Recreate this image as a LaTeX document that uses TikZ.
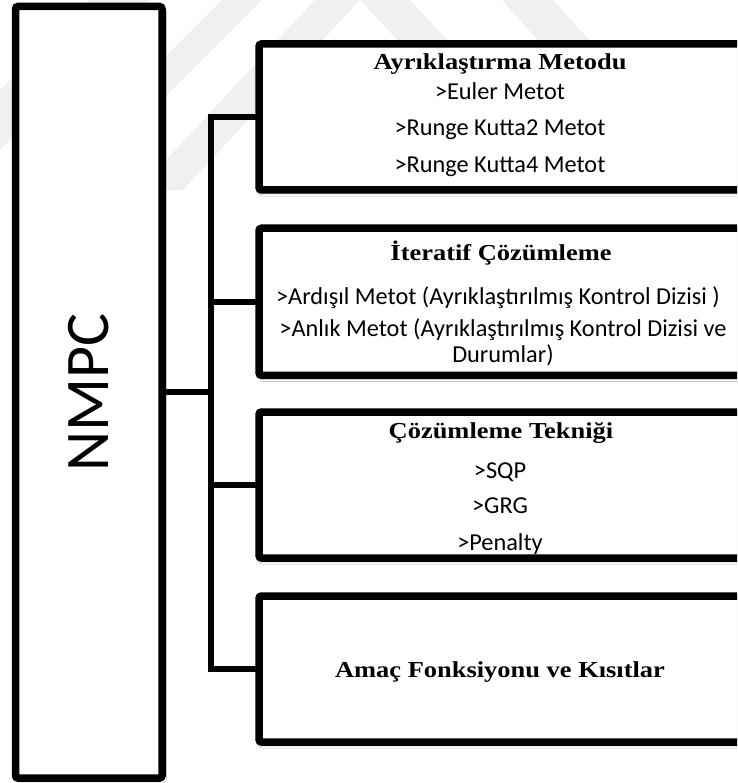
\documentclass[tikz,border=0pt]{standalone}
\usepackage{fontspec}
\setmainfont{Liberation Serif}
\newfontfamily\calib{Carlito}
\usetikzlibrary{shadows.blur}
\newcommand\ttltext[1]{\scalebox{1.16}[1]{#1}}
\begin{document}
\begin{tikzpicture}[x=1pt,y=-1pt,
  box/.style={draw=black, line width=7.5pt, fill=white, rounded corners=2.5pt,
    outer sep=0pt, inner sep=0pt,
    blur shadow={shadow xshift=1.5pt, shadow yshift=-3pt, shadow opacity=30,
      shadow blur radius=3pt, shadow blur steps=6}},
  conn/.style={line width=6pt},
  ttl/.style={font=\fontsize{22.8}{27}\selectfont\bfseries, anchor=base, inner sep=0pt},
  itm/.style={font=\calib\fontsize{24.3}{28}\selectfont, anchor=base, inner sep=0pt},
  wm/.style={fill=black!6, draw=none},
]
\clip (0,0) rectangle (737,783);
\fill[white] (0,0) rectangle (737,783);
% faint watermark
\path[wm] (138,190) -- (315,0) -- (410,0) -- (587,190) -- (537,190) -- (360,0) -- (183,190) -- cycle;
\path[wm] (502,0) -- (553,0) -- (607,60) -- (556,60) -- cycle;
\path[wm] (222,0) -- (262,0) -- (132,130) -- (92,130) -- cycle;
\path[wm] (0,90) -- (90,0) -- (150,0) -- (0,150) -- cycle;

% NMPC box
\node[box, minimum width=146.5pt, minimum height=771.5pt,
  font=\calib\fontsize{62}{70}\selectfont] (nmpc) at (88.75,392.25) {\rotatebox{90}{NMPC}};

% branch boxes
\node[box, minimum width=486pt, minimum height=146pt] (b1) at (502,117) {};
\node[box, minimum width=486pt, minimum height=147pt] (b2) at (502,301.75) {};
\node[box, minimum width=486pt, minimum height=146pt] (b3) at (502,485) {};
\node[box, minimum width=486pt, minimum height=146pt] (b4) at (502,669) {};

% connectors
\coordinate (bus) at (211,0);
\draw[conn] (nmpc.east) -- (nmpc.east -| bus);
\draw[conn] (b1.west) -| (bus |- b4.west) -- (b4.west);
\draw[conn] (b2.west) -- (b2.west -| bus);
\draw[conn] (b3.west) -- (b3.west -| bus);

% texts box 1
\node[ttl] (t1) at (500,69.5) {\ttltext{Ayrıklaştırma Metodu}};
\node[itm] (t1a) at (500,100) {>Euler Metot};
\node[itm] (t1b) at (500,136) {>Runge Kutta2 Metot};
\node[itm] (t1c) at (500,173) {>Runge Kutta4 Metot};
% box 2
\node[ttl] (t2) at (501,260.5) {\ttltext{İteratif Çözümleme}};
\node[itm] (t2a) at (498,304) {>Ardışıl Metot (Ayrıklaştırılmış Kontrol Dizisi )};
\node[itm] (t2b) at (503,336) {>Anlık Metot (Ayrıklaştırılmış Kontrol Dizisi ve};
\node[itm] (t2c) at (503,362) {Durumlar)};
% box 3
\node[ttl] (t3) at (501,438.5) {\ttltext{Çözümleme Tekniği}};
\node[itm] (t3a) at (500,478) {>SQP};
\node[itm] (t3b) at (500,513) {>GRG};
\node[itm] (t3c) at (500,550) {>Penalty};
% box 4
\node[ttl] (t4) at (500,677) {\ttltext{Amaç Fonksiyonu ve Kısıtlar}};
\end{tikzpicture}
\end{document}
